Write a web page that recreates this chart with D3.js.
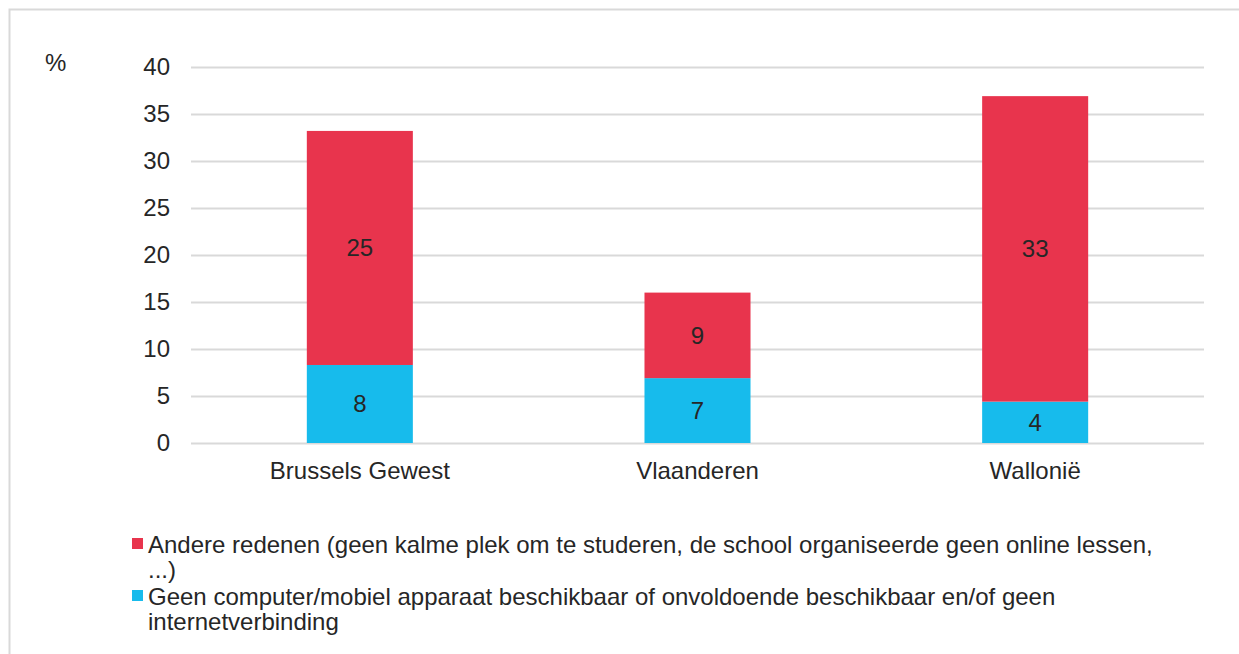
<!DOCTYPE html>
<html>
<head>
<meta charset="utf-8">
<script src="https://cdn.jsdelivr.net/npm/d3@7"></script>
<style>
  html, body { margin: 0; padding: 0; background: #fff; }
  svg { display: block; font-family: "Liberation Sans", Arial, sans-serif; }
</style>
</head>
<body>
<svg id="chart" width="1239" height="654"></svg>
<script>
// Regions and stacked shares (%)
const categories = ["Brussels Gewest", "Vlaanderen", "Wallonië"];
const deviceValues = [8.3, 6.9, 4.4];   // Geen computer/mobiel apparaat ...
const otherValues  = [24.9, 9.1, 32.5]; // Andere redenen ...
const yTicks = [0, 5, 10, 15, 20, 25, 30, 35, 40];
const legendLines = [
  ["Andere redenen (geen kalme plek om te studeren, de school organiseerde geen online lessen,", "...)"],
  ["Geen computer/mobiel apparaat beschikbaar of onvoldoende beschikbaar en/of geen", "internetverbinding"]
];
const colors = { device: "#17bbec", other: "#e8344d" };
const FS = 24;
const TXT = "#262626";
const FONT = "'Liberation Sans', Arial, sans-serif";

const svg = d3.select("#chart");

// Outer frame
svg.append("rect")
  .attr("x", 9.5).attr("y", 9.5)
  .attr("width", 1240).attr("height", 660)
  .attr("fill", "none").attr("stroke", "#d9d9d9").attr("stroke-width", 2);

const plot = { left: 191, right: 1204, top: 67, bottom: 443 };

const x = d3.scaleBand().domain(categories)
  .range([plot.left, plot.right]).paddingInner(0.686).paddingOuter(0.343);
const y = d3.scaleLinear().domain([0, 40]).range([plot.bottom, plot.top]);

// Gridlines
svg.append("g").selectAll("line").data(yTicks).join("line")
  .attr("x1", plot.left).attr("x2", plot.right)
  .attr("y1", d => Math.round(y(d)) + 0.5).attr("y2", d => Math.round(y(d)) + 0.5)
  .attr("stroke", "#d9d9d9").attr("stroke-width", 2);

// Y axis tick labels
const yAxis = d3.axisLeft(y).tickValues(yTicks).tickSize(0).tickPadding(0);
const yg = svg.append("g").attr("transform", `translate(${plot.left - 21},0)`).call(yAxis);
yg.select(".domain").remove();
yg.selectAll("text").attr("font-size", FS).attr("fill", TXT).attr("font-family", FONT);

svg.append("text").attr("x", 45).attr("y", 71)
  .attr("font-size", FS).attr("fill", TXT).text("%");

// X axis labels
const xAxis = d3.axisBottom(x).tickSize(0).tickPadding(0);
const xg = svg.append("g").attr("transform", `translate(0,${plot.bottom + 19})`).call(xAxis);
xg.select(".domain").remove();
xg.selectAll("text").attr("font-size", FS).attr("fill", TXT).attr("font-family", FONT);

// Stacked bars
const rows = categories.map((c, i) => ({ cat: c, device: deviceValues[i], other: otherValues[i] }));
const stack = d3.stack().keys(["device", "other"])(rows);
const fmt = d3.format(".0f");

stack.forEach(layer => {
  const g = svg.append("g");
  g.selectAll("rect").data(layer).join("rect")
    .attr("x", d => x(d.data.cat))
    .attr("width", x.bandwidth())
    .attr("y", d => y(d[1]))
    .attr("height", d => y(d[0]) - y(d[1]))
    .attr("fill", colors[layer.key]);
  g.selectAll("text").data(layer).join("text")
    .attr("x", d => x(d.data.cat) + x.bandwidth() / 2)
    .attr("y", d => (y(d[0]) + y(d[1])) / 2)
    .attr("dy", "0.35em")
    .attr("text-anchor", "middle")
    .attr("font-size", FS).attr("fill", TXT)
    .text(d => fmt(d.data[layer.key]));
});

// Legend
const legendItems = [
  { color: colors.other, lines: legendLines[0], base: 553 },
  { color: colors.device, lines: legendLines[1], base: 605 }
];
legendItems.forEach(item => {
  svg.append("rect").attr("x", 132).attr("y", item.base - 15)
    .attr("width", 11).attr("height", 11).attr("fill", item.color);
  const t = svg.append("text").attr("x", 148).attr("y", item.base)
    .attr("font-size", FS).attr("fill", TXT);
  item.lines.forEach((ln, i) => {
    t.append("tspan").attr("x", 148).attr("dy", i === 0 ? 0 : 25).text(ln);
  });
});
</script>
</body>
</html>
